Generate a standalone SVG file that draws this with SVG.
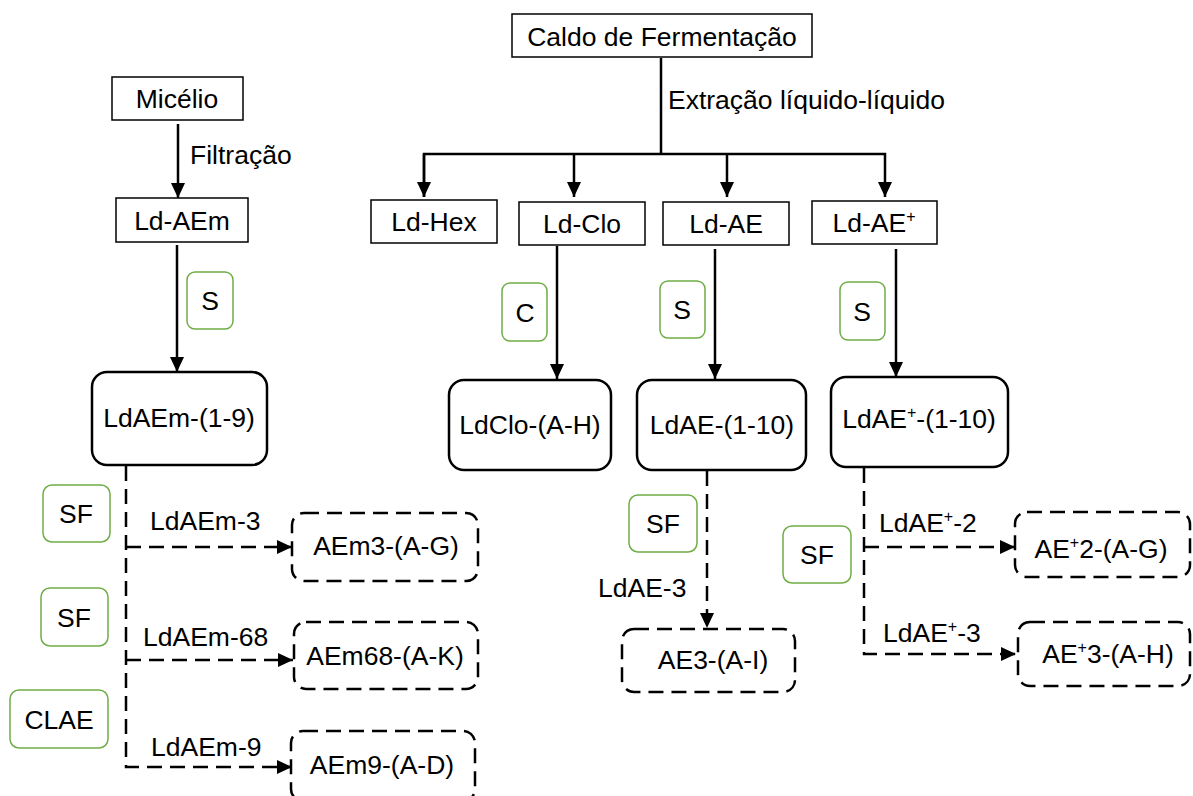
<svg xmlns="http://www.w3.org/2000/svg" width="1193" height="796" viewBox="0 0 1193 796">
<style>
text{font-family:"Liberation Sans",Arial,sans-serif;font-size:26.5px;fill:#000}
.m{text-anchor:middle}
.sq{fill:#fff;stroke:#000;stroke-width:1.5}
.rd{fill:#fff;stroke:#000;stroke-width:2.5}
.ds{fill:#fff;stroke:#000;stroke-width:2.5;stroke-dasharray:15 8}
.gr{fill:#fff;stroke:#70AD47;stroke-width:1.5}
.ln{fill:none;stroke:#000;stroke-width:2.5}
.dl{fill:none;stroke:#000;stroke-width:2.5;stroke-dasharray:15 8}
.sup{font-size:16px}
</style>
<defs>
<marker id="ah" markerUnits="userSpaceOnUse" markerWidth="16" markerHeight="14" refX="15" refY="7" orient="auto" viewBox="0 0 16 14">
<path d="M0,0 L15,7 L0,14 z" fill="#000"/>
</marker>
</defs>
<rect width="1193" height="796" fill="#fff"/>
<g id="connectors">
<line class="ln" x1="661" y1="58" x2="661" y2="154"/>
<polyline class="ln" points="424,197 424,154 885,154 885,197" marker-end="url(#ah)"/>
<line class="ln" x1="424" y1="154" x2="424" y2="197" marker-end="url(#ah)"/>
<line class="ln" x1="574" y1="154" x2="574" y2="197" marker-end="url(#ah)"/>
<line class="ln" x1="727" y1="154" x2="727" y2="197" marker-end="url(#ah)"/>
<line class="ln" x1="178" y1="124" x2="178" y2="198" marker-end="url(#ah)"/>
<line class="ln" x1="177" y1="245" x2="177" y2="372" marker-end="url(#ah)"/>
<line class="ln" x1="557" y1="246" x2="557" y2="379" marker-end="url(#ah)"/>
<line class="ln" x1="715" y1="249" x2="715" y2="379" marker-end="url(#ah)"/>
<line class="ln" x1="896" y1="249" x2="896" y2="377" marker-end="url(#ah)"/>
<polyline class="dl" points="126,466 126,767 292,767" marker-end="url(#ah)"/>
<line class="dl" x1="126" y1="547" x2="292" y2="547" marker-end="url(#ah)"/>
<line class="dl" x1="126" y1="660" x2="293" y2="660" marker-end="url(#ah)"/>
<line class="dl" x1="707" y1="471" x2="707" y2="628" marker-end="url(#ah)"/>
<polyline class="dl" points="864,468 864,654 1016,654" marker-end="url(#ah)"/>
<line class="dl" x1="864" y1="547" x2="1015" y2="547" marker-end="url(#ah)"/>
</g>
<g id="caldo"><rect class="sq" x="512" y="14" width="300" height="43"/><text class="m" x="662" y="46">Caldo de Fermentação</text></g>
<g id="lbl-extracao"><text x="668" y="109">Extração líquido-líquido</text></g>
<g id="micelio"><rect class="sq" x="112" y="77" width="131" height="43"/><text class="m" x="177" y="108">Micélio</text></g>
<g id="lbl-filtracao"><text x="190" y="164">Filtração</text></g>
<g id="ld-aem"><rect class="sq" x="116" y="198" width="132" height="44"/><text class="m" x="182" y="230">Ld-AEm</text></g>
<g id="ld-hex"><rect class="sq" x="371" y="200" width="126" height="43"/><text class="m" x="434" y="231">Ld-Hex</text></g>
<g id="ld-clo"><rect class="sq" x="519" y="202" width="126" height="43"/><text class="m" x="582" y="233">Ld-Clo</text></g>
<g id="ld-ae"><rect class="sq" x="663" y="202" width="126" height="43"/><text class="m" x="726" y="233">Ld-AE</text></g>
<g id="ld-aeplus"><rect class="sq" x="812" y="201" width="125" height="43"/><text class="m" x="874" y="232">Ld-AE<tspan class="sup" dy="-10">+</tspan></text></g>
<g id="s1"><rect class="gr" x="187" y="272" width="46" height="57" rx="8"/><text class="m" x="210" y="310">S</text></g>
<g id="c1"><rect class="gr" x="502" y="283" width="45" height="58" rx="8"/><text class="m" x="525" y="322">C</text></g>
<g id="s2"><rect class="gr" x="660" y="281" width="45" height="57" rx="8"/><text class="m" x="682" y="319">S</text></g>
<g id="s3"><rect class="gr" x="840" y="282" width="45" height="58" rx="8"/><text class="m" x="862" y="321">S</text></g>
<g id="ldaem19"><rect class="rd" x="92" y="372" width="175" height="93" rx="15"/><text class="m" x="179" y="427">LdAEm-(1-9)</text></g>
<g id="ldclo"><rect class="rd" x="449" y="380" width="162" height="90" rx="15"/><text class="m" x="530" y="434">LdClo-(A-H)</text></g>
<g id="ldae110"><rect class="rd" x="637" y="380" width="169" height="90" rx="15"/><text class="m" x="722" y="434">LdAE-(1-10)</text></g>
<g id="ldaeplus110"><rect class="rd" x="831" y="377" width="177" height="90" rx="15"/><text class="m" x="919" y="428">LdAE<tspan class="sup" dy="-10">+</tspan><tspan dy="10">-(1-10)</tspan></text></g>
<g id="sf1"><rect class="gr" x="43" y="485" width="67" height="57" rx="9"/><text class="m" x="76" y="523">SF</text></g>
<g id="sf2"><rect class="gr" x="41" y="588" width="67" height="58" rx="9"/><text class="m" x="74" y="627">SF</text></g>
<g id="clae"><rect class="gr" x="10" y="690" width="98" height="58" rx="9"/><text class="m" x="59" y="729">CLAE</text></g>
<g id="sf3"><rect class="gr" x="629" y="495" width="68" height="57" rx="9"/><text class="m" x="663" y="533">SF</text></g>
<g id="sf4"><rect class="gr" x="783" y="526" width="68" height="57" rx="9"/><text class="m" x="817" y="564">SF</text></g>
<g id="lbl-ldaem3"><text x="150" y="530">LdAEm-3</text></g>
<g id="lbl-ldaem68"><text x="143" y="646">LdAEm-68</text></g>
<g id="lbl-ldaem9"><text x="151" y="756">LdAEm-9</text></g>
<g id="lbl-ldae3"><text x="598" y="597">LdAE-3</text></g>
<g id="lbl-ldaeplus2"><text x="879" y="532">LdAE<tspan class="sup" dy="-10">+</tspan><tspan dy="10">-2</tspan></text></g>
<g id="lbl-ldaeplus3"><text x="883" y="642">LdAE<tspan class="sup" dy="-10">+</tspan><tspan dy="10">-3</tspan></text></g>
<g id="aem3"><rect class="ds" x="292" y="513" width="186" height="68" rx="12"/><text class="m" x="386" y="555">AEm3-(A-G)</text></g>
<g id="aem68"><rect class="ds" x="294" y="622" width="184" height="67" rx="12"/><text class="m" x="385" y="665">AEm68-(A-K)</text></g>
<g id="aem9"><rect class="ds" x="291" y="731" width="184" height="70" rx="12"/><text class="m" x="382" y="774">AEm9-(A-D)</text></g>
<g id="ae3"><rect class="ds" x="622" y="629" width="173" height="63" rx="12"/><text class="m" x="713" y="669">AE3-(A-I)</text></g>
<g id="aeplus2"><rect class="ds" x="1015" y="512" width="175" height="65" rx="12"/><text class="m" x="1101" y="558">AE<tspan class="sup" dy="-10">+</tspan><tspan dy="10">2-(A-G)</tspan></text></g>
<g id="aeplus3"><rect class="ds" x="1018" y="622" width="172" height="64" rx="12"/><text class="m" x="1108" y="663">AE<tspan class="sup" dy="-10">+</tspan><tspan dy="10">3-(A-H)</tspan></text></g>
</svg>
